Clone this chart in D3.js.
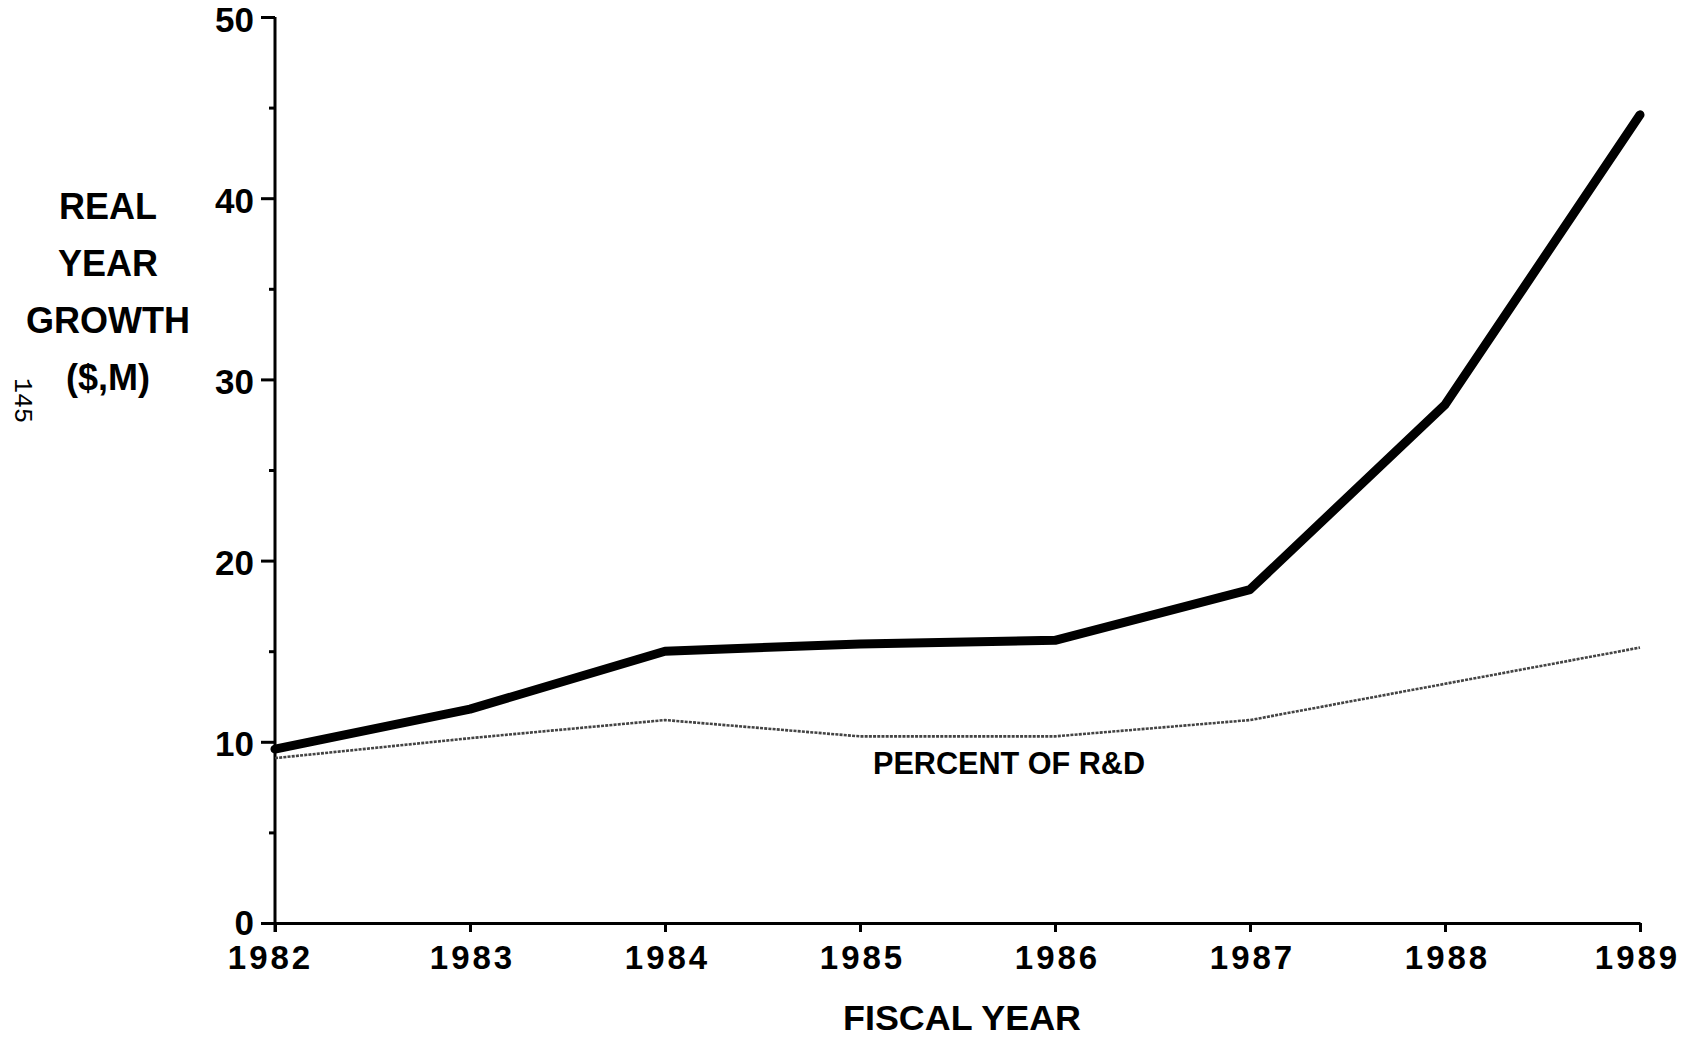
<!DOCTYPE html>
<html>
<head>
<meta charset="utf-8">
<script src="https://cdn.jsdelivr.net/npm/d3@7"></script>
<style>
  html, body { margin: 0; padding: 0; background: #fff; }
  svg { display: block; }
  text { font-family: "Liberation Sans", Arial, sans-serif; font-weight: bold; fill: #000; }
</style>
</head>
<body>
<svg id="chart" width="1683" height="1038"></svg>
<script>
// ---- data ----
const years = [1982, 1983, 1984, 1985, 1986, 1987, 1988, 1989];
const growth = [9.6, 11.8, 15.0, 15.4, 15.6, 18.4, 28.6, 44.6];      // real year growth ($,M)
const percentRD = [9.1, 10.2, 11.2, 10.3, 10.3, 11.2, 13.2, 15.2];   // percent of R&D
const yMajorTicks = [0, 10, 20, 30, 40, 50];
const yMinorTicks = [5, 15, 25, 35, 45];
const yTitleLines = ["REAL", "YEAR", "GROWTH", "($,M)"];
const xTitle = "FISCAL YEAR";
const seriesLabel = "PERCENT OF R&D";
const pageNumber = "145";

const svg = d3.select("#chart");
const FONT = '"Liberation Sans", Arial, sans-serif';

const x = d3.scaleLinear().domain([1982, 1989]).range([275, 1640]);
const y = d3.scaleLinear().domain([0, 50]).range([923, 17]);

// ---- y axis ----
const yAxis = d3.axisLeft(y).tickValues(yMajorTicks).tickSize(14).tickSizeOuter(0).tickPadding(7)
  .tickFormat(d3.format("d"));
const gy = svg.append("g").attr("transform", `translate(${x(1982)},0)`).call(yAxis);
gy.select(".domain").attr("stroke", "#000").attr("stroke-width", 3).attr("d", `M0,${y(50)}V${y(0) + 9}`);
gy.selectAll(".tick line").attr("stroke", "#000").attr("stroke-width", 3);
gy.selectAll(".tick text").attr("font-size", 35).attr("dy", d => d === 0 ? "0.34em" : "0.40em")
  .style("font-family", FONT).style("font-weight", "bold");

const yMinor = d3.axisLeft(y).tickValues(yMinorTicks).tickSize(6).tickSizeOuter(0).tickFormat("");
const gym = svg.append("g").attr("transform", `translate(${x(1982)},0)`).call(yMinor);
gym.select(".domain").remove();
gym.selectAll(".tick line").attr("stroke", "#000").attr("stroke-width", 3);

// ---- x axis ----
const xAxis = d3.axisBottom(x).tickValues(years).tickSize(9).tickSizeOuter(0).tickPadding(14)
  .tickFormat(d3.format("d"));
const gx = svg.append("g").attr("transform", `translate(0,${y(0)})`).call(xAxis);
gx.select(".domain").attr("stroke", "#000").attr("stroke-width", 3);
gx.selectAll(".tick line").attr("stroke", "#000").attr("stroke-width", 3);
gx.selectAll(".tick text").attr("font-size", 33)
  .attr("letter-spacing", 3)
  .attr("dx", (d, i) => i === 0 ? -5 : (i === years.length - 1 ? -3 : 2))
  .style("font-family", FONT).style("font-weight", "bold");

// ---- lines ----
const line = d3.line().x((d, i) => x(years[i])).y(d => y(d)).curve(d3.curveLinear);

svg.append("path").datum(percentRD)
  .attr("d", line)
  .attr("fill", "none")
  .attr("stroke", "#444")
  .attr("stroke-width", 2.6)
  .attr("stroke-dasharray", "3,1.2");

svg.append("path").datum(growth)
  .attr("d", line)
  .attr("fill", "none")
  .attr("stroke", "#000")
  .attr("stroke-width", 9)
  .attr("stroke-linejoin", "round")
  .attr("stroke-linecap", "round");

// ---- labels ----
svg.append("text").text(seriesLabel)
  .attr("x", 873).attr("y", 774)
  .attr("font-size", 31).attr("textLength", 272).attr("lengthAdjust", "spacingAndGlyphs");

svg.append("text").text(xTitle)
  .attr("x", 843).attr("y", 1030)
  .attr("font-size", 35).attr("textLength", 238).attr("lengthAdjust", "spacingAndGlyphs");

const yTitleBase = [219, 276, 333, 390];
yTitleLines.forEach((t, i) => {
  svg.append("text").text(t)
    .attr("x", 108).attr("y", yTitleBase[i])
    .attr("text-anchor", "middle")
    .attr("font-size", 36);
});

svg.append("text").text(pageNumber)
  .attr("transform", "translate(15,378) rotate(90)")
  .style("font-family", '"Liberation Mono", "DejaVu Sans Mono", monospace')
  .style("font-weight", "normal")
  .attr("font-size", 25);
</script>
</body>
</html>
